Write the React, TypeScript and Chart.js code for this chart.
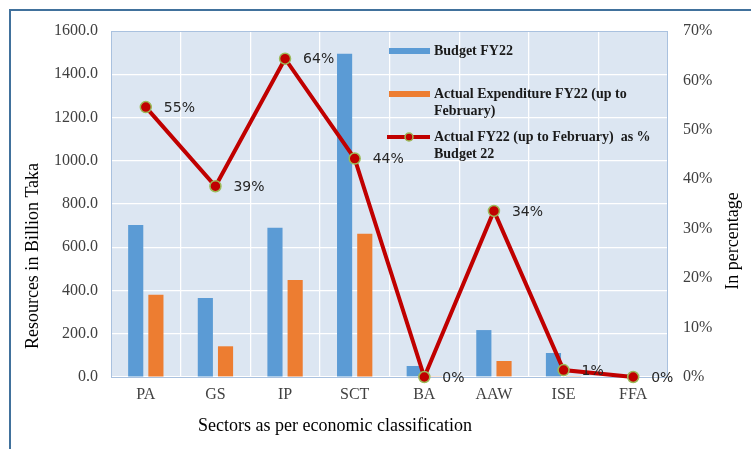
import React, { useEffect, useRef } from "react";
import { Chart, registerables } from "chart.js";

Chart.register(...registerables);

const categories = ["PA", "GS", "IP", "SCT", "BA", "AAW", "ISE", "FFA"];
const budgetFY22 = [703, 365, 690, 1495, 51, 217, 111, 0];
const actualFY22 = [380, 142, 448, 662, 2, 74, 4, 0];
const actualPct = [54.6, 38.6, 64.4, 44.2, 0, 33.6, 1.4, 0];

const leftTitle = "Resources in Billion Taka";
const rightTitle = "In percentage";
const bottomTitle = "Sectors as per economic classification";
const legendBudget = ["Budget FY22"];
const legendActual = ["Actual Expenditure FY22 (up to", "February)"];
const legendPct = ["Actual FY22 (up to February)  as %", "Budget 22"];

const BLUE = "#5B9BD5";
const ORANGE = "#ED7D31";
const RED = "#C00000";
const GREEN = "#9BBB59";
const SERIF = "'Liberation Serif', 'Times New Roman', serif";

const plotBg = {
  id: "plotBg",
  beforeDraw(chart: any) {
    const { ctx, chartArea: a } = chart;
    ctx.save();
    ctx.fillStyle = "#DCE6F2";
    ctx.fillRect(a.left, a.top, a.right - a.left, a.bottom - a.top);
    ctx.restore();
  },
  beforeDatasetsDraw(chart: any) {
    const { ctx, chartArea: a } = chart;
    ctx.save();
    ctx.strokeStyle = "#A9C1DF";
    ctx.lineWidth = 1;
    ctx.strokeRect(a.left + 0.5, a.top + 0.5, a.right - a.left - 1, a.bottom - a.top);
    ctx.restore();
  },
};

const pctLabelsPlugin = {
  id: "pctLabels",
  afterDatasetsDraw(chart: any) {
    const { ctx } = chart;
    const meta = chart.getDatasetMeta(2);
    ctx.save();
    ctx.font = "14px 'DejaVu Sans', Verdana, sans-serif";
    ctx.fillStyle = "#262626";
    ctx.textAlign = "left";
    ctx.textBaseline = "middle";
    meta.data.forEach((pt: any, i: number) => {
      ctx.fillText(Math.round(actualPct[i]) + "%", pt.x + 18, pt.y + 1);
    });
    ctx.restore();
  },
};

const titlesAndLegend = {
  id: "titlesAndLegend",
  afterDraw(chart: any) {
    const { ctx, chartArea: a } = chart;
    ctx.save();
    ctx.fillStyle = "#000";
    ctx.font = `18px ${SERIF}`;
    ctx.textAlign = "center";
    ctx.textBaseline = "middle";
    ctx.save();
    ctx.translate(33, a.top + 225);
    ctx.rotate(-Math.PI / 2);
    ctx.fillText(leftTitle, 0, 0);
    ctx.restore();
    ctx.save();
    ctx.translate(a.right + 65, a.top + 210);
    ctx.rotate(-Math.PI / 2);
    ctx.fillText(rightTitle, 0, 0);
    ctx.restore();
    ctx.fillText(bottomTitle, a.left + 224, a.bottom + 49);

    const lx = a.left + 278;
    const tx = lx + 45;
    const rows = [a.top + 20, a.top + 63, a.top + 106];
    ctx.font = `bold 14px ${SERIF}`;
    ctx.textAlign = "left";
    ctx.fillStyle = BLUE;
    ctx.fillRect(lx, rows[0] - 3, 41, 6);
    ctx.fillStyle = ORANGE;
    ctx.fillRect(lx, rows[1] - 3, 41, 6);
    ctx.strokeStyle = RED;
    ctx.lineWidth = 4;
    ctx.beginPath();
    ctx.moveTo(lx - 2, rows[2]);
    ctx.lineTo(lx + 41, rows[2]);
    ctx.stroke();
    ctx.beginPath();
    ctx.arc(lx + 20, rows[2], 4, 0, Math.PI * 2);
    ctx.fillStyle = RED;
    ctx.fill();
    ctx.lineWidth = 1.5;
    ctx.strokeStyle = GREEN;
    ctx.stroke();
    ctx.fillStyle = "#1a1a1a";
    const texts = [legendBudget, legendActual, legendPct];
    texts.forEach((lines, r) => {
      lines.forEach((t, j) => ctx.fillText(t, tx, rows[r] + j * 17));
    });
    ctx.restore();
  },
};

export default function App() {
  const ref = useRef<HTMLCanvasElement>(null);
  useEffect(() => {
    if (!ref.current) return;
    const chart = new Chart(ref.current, {
      type: "bar",
      data: {
        labels: categories,
        datasets: [
          {
            type: "bar",
            label: legendBudget.join(" "),
            data: budgetFY22,
            backgroundColor: BLUE,
            yAxisID: "y",
            order: 1,
            categoryPercentage: 0.58,
            barPercentage: 0.75,
          },
          {
            type: "bar",
            label: legendActual.join(" "),
            data: actualFY22,
            backgroundColor: ORANGE,
            yAxisID: "y",
            order: 1,
            categoryPercentage: 0.58,
            barPercentage: 0.75,
          },
          {
            type: "line",
            label: legendPct.join(" "),
            data: actualPct,
            borderColor: RED,
            borderWidth: 4,
            pointBackgroundColor: RED,
            pointBorderColor: GREEN,
            pointBorderWidth: 1.5,
            pointRadius: 5.5,
            yAxisID: "y1",
            order: 0,
            clip: false,
            tension: 0,
          } as any,
        ],
      },
      options: {
        animation: false,
        responsive: false,
        maintainAspectRatio: false,
        layout: { padding: { top: 31, left: 0, right: 0, bottom: 0 } },
        plugins: { legend: { display: false }, tooltip: { enabled: false } },
        scales: {
          x: {
            offset: true,
            grid: { color: "#FFFFFF", lineWidth: 1.25, offset: true, drawTicks: false },
            border: { display: false },
            ticks: { color: "#404040", font: { family: SERIF, size: 16 }, padding: 8 },
            afterFit(s: any) {
              s.height = 72;
            },
          },
          y: {
            position: "left",
            min: 0,
            max: 1600,
            ticks: {
              stepSize: 200,
              color: "#404040",
              font: { family: SERIF, size: 16 },
              padding: 13,
              callback: (v: any) => Number(v).toFixed(1),
            },
            grid: { color: "#FFFFFF", lineWidth: 1.25, drawTicks: false },
            border: { display: false },
            afterFit(s: any) {
              s.width = 111;
            },
          },
          y1: {
            position: "right",
            min: 0,
            max: 70,
            ticks: {
              stepSize: 10,
              color: "#404040",
              font: { family: SERIF, size: 16 },
              padding: 15,
              callback: (v: any) => v + "%",
            },
            grid: { display: false, drawTicks: false },
            border: { display: false },
            afterFit(s: any) {
              s.width = 83;
            },
          },
        },
      },
      plugins: [plotBg, pctLabelsPlugin, titlesAndLegend],
    });
    return () => chart.destroy();
  }, []);

  return (
    <div
      style={{
        position: "fixed",
        left: 0,
        top: 0,
        width: 751,
        height: 449,
        overflow: "hidden",
        background: "#fff",
      }}
    >
      <canvas ref={ref} width={751} height={449} style={{ position: "absolute", left: 0, top: 0 }} />
      <div
        style={{
          position: "absolute",
          left: 9,
          top: 9,
          width: 800,
          height: 500,
          borderLeft: "2px solid #41719C",
          borderTop: "2px solid #41719C",
          pointerEvents: "none",
        }}
      />
    </div>
  );
}
